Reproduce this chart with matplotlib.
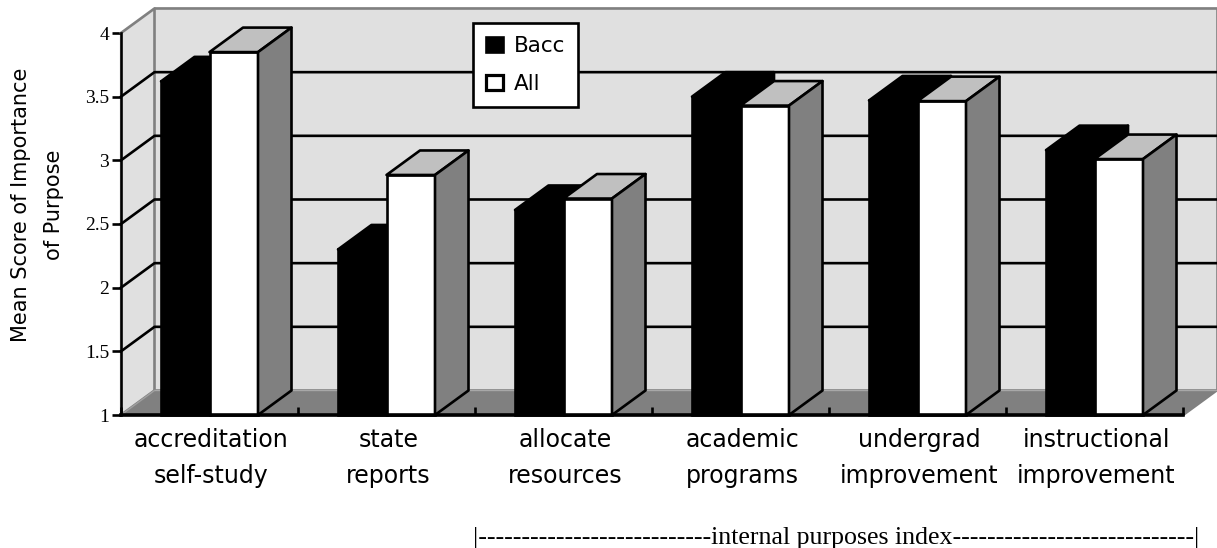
# plot.py
import matplotlib
matplotlib.use("Agg")
import matplotlib.pyplot as plt
from matplotlib.patches import Patch, Polygon

# ---------- Data ----------
categories = [
    "accreditation\nself-study",
    "state\nreports",
    "allocate\nresources",
    "academic\nprograms",
    "undergrad\nimprovement",
    "instructional\nimprovement",
]
bacc = [3.62, 2.30, 2.61, 3.50, 3.47, 3.08]
all_inst = [3.85, 2.885, 2.70, 3.43, 3.465, 3.01]
y_ticks = [1, 1.5, 2, 2.5, 3, 3.5, 4]
y_tick_labels = ["1", "1.5", "2", "2.5", "3", "3.5", "4"]

# ---------- Config ----------
W, H = 1217, 548
LEFT, RIGHT, TOP, BOTTOM = 121, 1183, 33, 415  # plot box in pixels
DX, DY = 33.5 / 177, 24.5 / 127.3  # depth of the fake 3d box, in data units
WALL_END = 6 + DX
BAR_START = 0.226
BAR_W = 0.274
LW = 1.9
WALL = "#e0e0e0"
FLOOR = "#808080"
EDGE_GRAY = "#808080"
SIDE = "#808080"
TOP_FACE = "#c0c0c0"

fig = plt.figure(figsize=(W / 100, H / 100), dpi=100)
ax = fig.add_axes([LEFT / W, 1 - BOTTOM / H, (RIGHT - LEFT) / W, (BOTTOM - TOP) / H])
ax.set_xlim(0, 6)
ax.set_ylim(1, 4)
ax.patch.set_visible(False)


def poly(points, face, edge=None, z=1, lw=LW):
    ax.add_patch(Polygon(points, closed=True, facecolor=face, edgecolor=edge or face,
                         linewidth=lw, joinstyle="round", clip_on=False, zorder=z))


def draw_bar(x, value, front, top, side, z):
    ax.bar(x, value - 1, BAR_W, bottom=1, align="edge", color=front, edgecolor="black",
           linewidth=LW, clip_on=False, zorder=z)
    poly([(x, value), (x + DX, value + DY), (x + BAR_W + DX, value + DY), (x + BAR_W, value)],
         top, "black", z)
    poly([(x + BAR_W, value), (x + BAR_W + DX, value + DY), (x + BAR_W + DX, 1 + DY), (x + BAR_W, 1)],
         side, "black", z)


# walls and floor
poly([(DX, 1 + DY), (WALL_END, 1 + DY), (WALL_END, 4 + DY), (DX, 4 + DY)], WALL, z=1)
poly([(0, 1), (DX, 1 + DY), (DX, 4 + DY), (0, 4)], WALL, z=1)
poly([(0, 1), (DX, 1 + DY), (WALL_END, 1 + DY), (6, 1)], FLOOR, z=1)
ax.plot([0, DX, DX], [4, 4 + DY, 1 + DY], color=EDGE_GRAY, lw=LW, clip_on=False, zorder=2)
ax.plot([DX, WALL_END, WALL_END], [4 + DY, 4 + DY, 1 + DY], color=EDGE_GRAY, lw=LW,
        clip_on=False, zorder=2)
ax.plot([0, DX], [1, 1 + DY], color="#a0a0a0", lw=1, clip_on=False, zorder=2)
ax.plot([DX, WALL_END], [1 + DY, 1 + DY], color="#a8a8a8", lw=1, clip_on=False, zorder=2)

# gridlines run up the side wall and along the back
for v in y_ticks[1:-1]:
    ax.plot([0, DX, WALL_END], [v, v + DY, v + DY], color="black", lw=LW, clip_on=False, zorder=2)

# bars, left to right so that each one overlaps the one behind it
for i in range(len(categories)):
    draw_bar(i + BAR_START, bacc[i], "black", "black", "black", 3 + i)
    draw_bar(i + BAR_START + BAR_W, all_inst[i], "white", TOP_FACE, SIDE, 3 + i)

# axes
for side in ("top", "right"):
    ax.spines[side].set_visible(False)
ax.spines["left"].set_linewidth(LW)
ax.spines["bottom"].set_linewidth(2.6)
ax.spines["left"].set_zorder(20)
ax.spines["bottom"].set_zorder(20)

ax.set_yticks(y_ticks)
ax.set_yticklabels(y_tick_labels, family="Liberation Serif", fontsize=14)
ax.tick_params(axis="y", direction="out", length=6.5, width=LW, pad=2)

ax.set_xticks(range(7))
ax.set_xticklabels([])
ax.tick_params(axis="x", which="major", direction="in", length=6, width=LW, zorder=20)
ax.set_xticks([i + 0.51 for i in range(6)], minor=True)
ax.set_xticklabels(categories, minor=True, fontsize=17, family="DejaVu Sans", linespacing=1.65)
ax.tick_params(axis="x", which="minor", length=0, pad=9.3)

ax.set_ylabel("Mean Score of Importance\nof Purpose", fontsize=15, family="DejaVu Sans",
              linespacing=1.8)
ax.yaxis.set_label_coords((64 - LEFT) / (RIGHT - LEFT), (BOTTOM - 205) / (BOTTOM - TOP))

# legend
handles = [Patch(facecolor="black", edgecolor="black", linewidth=LW, label="Bacc"),
           Patch(facecolor="white", edgecolor="black", linewidth=LW + 0.4, label="All")]
leg = ax.legend(handles=handles, loc="upper left",
                bbox_to_anchor=((473 - LEFT) / (RIGHT - LEFT), (BOTTOM - 23) / (BOTTOM - TOP)),
                borderaxespad=0, fancybox=False, framealpha=1, edgecolor="black",
                facecolor="white", handlelength=0.8, handleheight=0.7, handletextpad=0.5,
                labelspacing=0.86, borderpad=0.6, prop={"family": "DejaVu Sans", "size": 15.5})
leg.get_frame().set_linewidth(LW)
leg.set_zorder(30)

fig.text(473 / W, 1 - 538 / H,
         "|---------------------------internal purposes index----------------------------|",
         family="Liberation Serif", fontsize=18.6, va="center", ha="left")

fig.savefig("out.png", dpi=100)
